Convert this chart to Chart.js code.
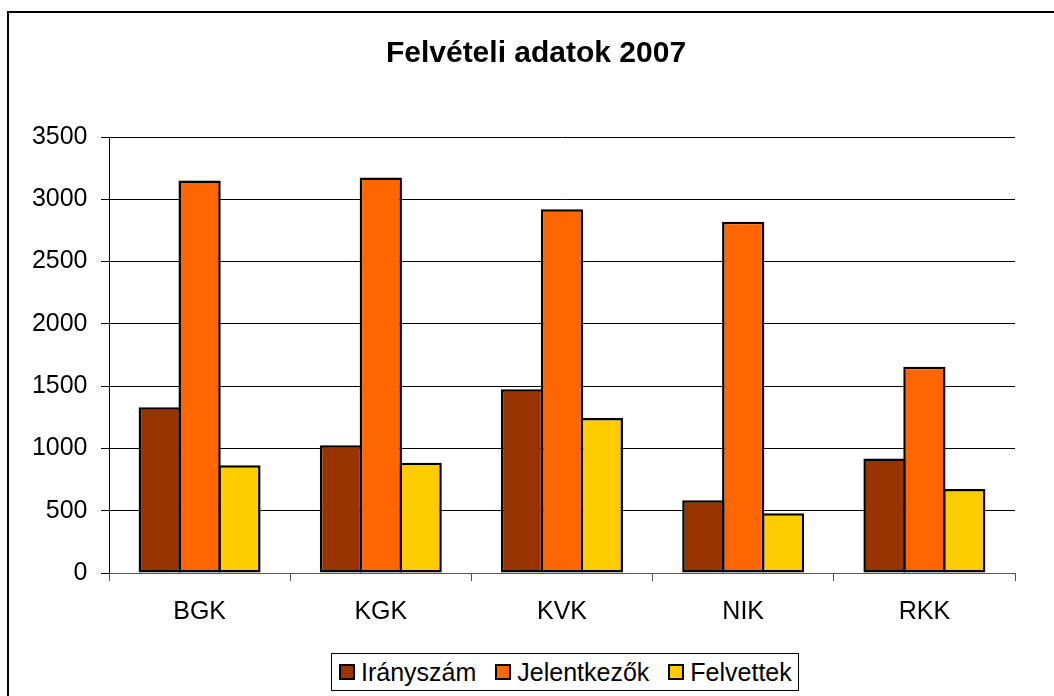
<!DOCTYPE html>
<html>
<head>
<meta charset="utf-8">
<script src="https://cdn.jsdelivr.net/npm/chart.js@4/dist/chart.umd.min.js"></script>
<style>
  body { margin: 0; background: #fff; font-family: 'Liberation Sans', Arial, sans-serif; }
  #wrap { position: relative; width: 1054px; height: 696px; overflow: hidden; }
  #frame { position: absolute; left: 7px; top: 11px; width: 1100px; height: 800px;
           border-left: 2px solid #000; border-top: 2px solid #000; }
  canvas { position: absolute; left: 0; top: 0; }
  #legend { position: absolute; left: 331px; top: 653px; height: 36px; border: 1px solid #000;
            display: flex; align-items: center; padding: 0 6px 0 7px; font-size: 25px; color: #000;
            background: #fff; }
  .item { display: flex; align-items: center; margin-right: 19px; }
  .item:last-child { margin-right: 0; }
  .sw { width: 12px; height: 12px; border: 2px solid #000; margin-right: 6px; }
</style>
</head>
<body>
<div id="wrap">
  <div id="frame"></div>
  <canvas id="chart" width="1054" height="696"></canvas>
  <div id="legend"></div>
</div>
<script>
const categories = ['BGK', 'KGK', 'KVK', 'NIK', 'RKK'];
const iranyszam = [1330, 1025, 1475, 585, 920];
const jelentkezok = [3150, 3175, 2920, 2820, 1655];
const felvettek = [865, 885, 1245, 480, 675];
const yTicks = [0, 500, 1000, 1500, 2000, 2500, 3000, 3500];

const font = "'Liberation Sans', Arial, sans-serif";

function bar(label, data, color) {
    return {
        label: label,
        data: data,
        backgroundColor: color,
        borderColor: '#000',
        borderWidth: 2.5,
        borderSkipped: false,
        barPercentage: 1.06,
        categoryPercentage: 0.66
    };
}

// the title of the original is centred on the frame, not on the canvas
const titleShift = {
    id: 'titleShift',
    afterLayout(c) {
        c.titleBlock.left = 18;
        c.titleBlock.right = 1054;
    }
};

let ctx = document.getElementById('chart').getContext('2d');
let chart = new Chart(ctx, {
    type: 'bar',
    data: {
        labels: categories,
        datasets: [
            bar('Irányszám', iranyszam, '#993300'),
            bar('Jelentkezők', jelentkezok, '#FF6600'),
            bar('Felvettek', felvettek, '#FFCC00')
        ]
    },
    options: {
        responsive: false,
        animation: false,
        layout: { padding: { left: 0, right: 39, top: 0, bottom: 63 } },
        plugins: {
            legend: { display: false },
            tooltip: { enabled: false },
            title: {
                display: true,
                text: 'Felvételi adatok 2007',
                color: '#000',
                font: { family: font, size: 30, weight: 'bold' },
                padding: { top: 36, bottom: 65 }
            }
        },
        scales: {
            x: {
                grid: { drawOnChartArea: false, drawTicks: true, tickLength: 8, color: '#555', offset: true },
                border: { color: '#555' },
                ticks: { color: '#000', font: { family: font, size: 25 }, padding: 16, maxRotation: 0 },
                afterFit: s => { s.height = 60; }
            },
            y: {
                min: 0,
                max: 3500,
                grid: { color: '#000', tickLength: 8 },
                border: { color: '#000' },
                ticks: {
                    color: '#000',
                    font: { family: font, size: 25 },
                    padding: 13.5,
                    callback: v => String(v)
                },
                afterBuildTicks: s => { s.ticks = yTicks.map(v => ({ value: v })); },
                afterFit: s => { s.width = 109; }
            }
        }
    },
    plugins: [titleShift]
});

// legend box like the original, built from the datasets
let legend = document.getElementById('legend');
chart.data.datasets.forEach(ds => {
    let item = document.createElement('div');
    item.className = 'item';
    let sw = document.createElement('div');
    sw.className = 'sw';
    sw.style.background = ds.backgroundColor;
    let txt = document.createElement('span');
    txt.textContent = ds.label;
    item.appendChild(sw);
    item.appendChild(txt);
    legend.appendChild(item);
});
</script>
</body>
</html>
